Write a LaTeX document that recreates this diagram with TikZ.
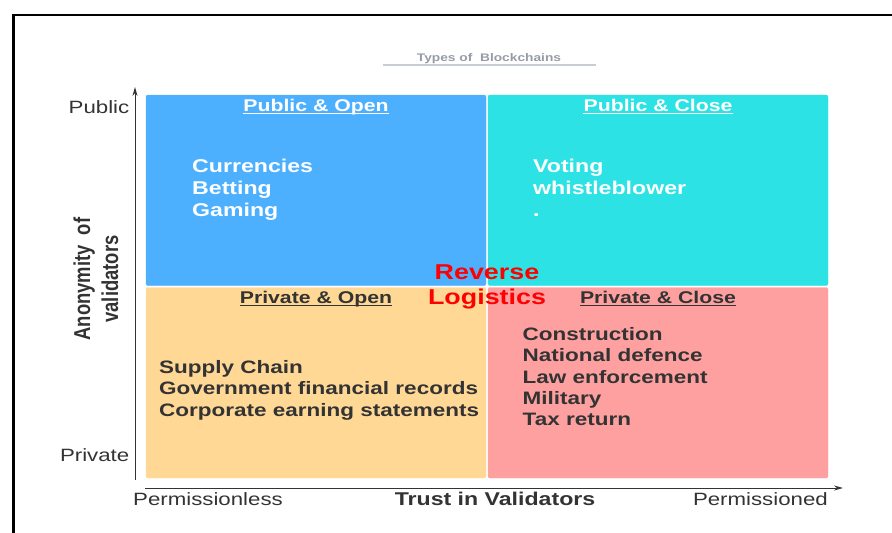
\documentclass[tikz,border=0pt]{standalone}
\usepackage{fontspec}
\setmainfont{Liberation Sans}[FakeStretch=1.25]
\newfontfamily\tallsans{Liberation Sans}[FakeStretch=0.8]
\usepackage{xcolor}
\usetikzlibrary{arrows.meta,positioning}

\definecolor{openblue}{RGB}{77,176,255}
\definecolor{closecyan}{RGB}{45,226,228}
\definecolor{opensand}{RGB}{255,216,150}
\definecolor{closerose}{RGB}{255,160,160}
\definecolor{inkgray}{RGB}{51,51,51}
\definecolor{titlegray}{RGB}{150,156,166}
\definecolor{rulegray}{RGB}{200,205,212}

\begin{document}
\begin{tikzpicture}[x=1pt, y=-1pt,
    quad/.style={rounded corners=2pt},
    quadhead/.style={inner sep=0pt, anchor=base, font=\bfseries\fontsize{17}{20}\selectfont},
    quaditems/.style={inner sep=0pt, anchor=north west, align=left, font=\bfseries\fontsize{18.5}{22}\selectfont},
    axislabel/.style={inner sep=0pt, text=inkgray, font=\fontsize{17.8}{20}\selectfont},
    axisline/.style={draw=inkgray, line width=1pt, -{Stealth[length=9pt,width=5pt]}}]
    \useasboundingbox (0,0) rectangle (892,533);
    \draw[line width=2.5pt] (13.5,533) -- (13.5,15) -- (892,15);
    \node[inner sep=0pt, anchor=base, text=titlegray, font=\bfseries\fontsize{11}{13}\selectfont] (title) at (489,61.5) {Types of\ \ Blockchains};
    \draw[rulegray, line width=1.5pt] (383,65) -- (596,65);
    % quadrants
    \foreach \qx/\qy/\qc in {146/95/openblue, 488/95/closecyan, 146/287.5/opensand, 488/287.5/closerose}
    \filldraw[quad, fill=\qc, draw=\qc] (\qx,\qy) rectangle ++(340,190.5);
    \node[quadhead, text=white] (hpo) at (316,111.5) {Public \& Open};
    \node[quadhead, text=white] (hpc) at (658,111.5) {Public \& Close};
    \node[quadhead, text=inkgray] (hvo) at (316,303.5) {Private \& Open};
    \node[quadhead, text=inkgray] (hvc) at (658,303.5) {Private \& Close};
    \foreach \h/\c in {hpo/white, hpc/white, hvo/inkgray, hvc/inkgray}
    \draw[\c, line width=1.3pt] ([yshift=-2pt]\h.base west) -- ([yshift=-2pt]\h.base east);
    \node[quaditems, text=white] (ipo) at (192,159) {Currencies\\Betting\\Gaming};
    \node[quaditems, text=white] (ipc) at (533,159) {Voting\\whistleblower\\.};
    \node[quaditems, text=inkgray, font=\bfseries\fontsize{18}{21.4}\selectfont] (ivo) at (159,360) {Supply Chain\\Government financial records\\Corporate earning statements};
    \node[quaditems, text=inkgray, font=\bfseries\fontsize{18}{21.4}\selectfont] (ivc) at (522.5,327) {Construction\\National defence\\Law enforcement\\Military\\Tax return};
    \node[inner sep=0pt, anchor=north, align=center, text=red, font=\bfseries\fontsize{21.5}{25}\selectfont] (revlog) at (487,264.5) {Reverse\\Logistics};
    % axes
    \coordinate (ybot) at (135,480);
    \coordinate (ytop) at (135,87);
    \coordinate (xleft) at (145,488);
    \coordinate (xright) at (843,488);
    \draw[axisline] (ybot) -- (ytop);
    \draw[axisline] (xleft) -- (xright);
    \node[axislabel, anchor=base east] (public) at (129.5,113) {Public};
    \node[axislabel, anchor=base east] (private) at (129.5,461.5) {Private};
    \node[axislabel, anchor=base west] (permless) at (133,505) {Permissionless};
    \node[axislabel, anchor=base east] (permed) at (828,505) {Permissioned};
    \node[axislabel, anchor=base, font=\bfseries\fontsize{18.5}{22}\selectfont] (trust) at (495,505.5) {Trust in Validators};
    \node[rotate=90, inner sep=0pt, align=center, text=inkgray, font=\tallsans\bfseries\fontsize{23}{28}\selectfont] (anon) at (96,279) {Anonymity\ \ of\\validators};
\end{tikzpicture}
\end{document}
